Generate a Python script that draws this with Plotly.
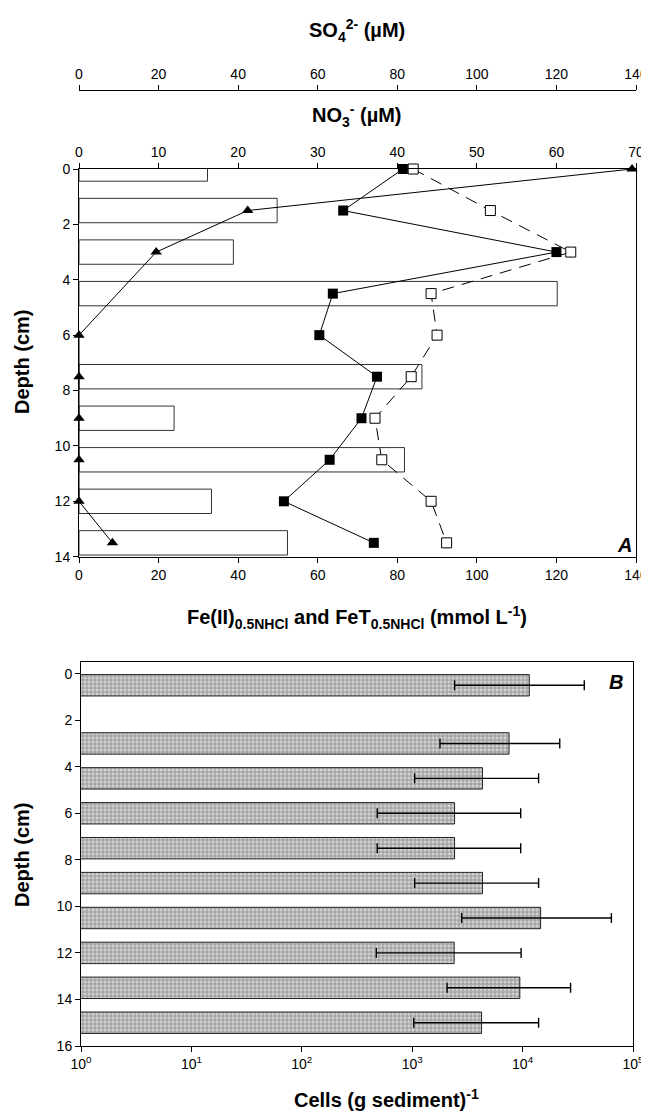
import plotly.graph_objects as go

# ---------------- Panel A data ----------------
so4_depth = [0, 1.5, 3, 4.5, 7.5, 9, 10.5, 12, 13.5]
so4_uM = [32.3, 49.8, 38.8, 120.2, 86.2, 23.9, 81.8, 33.3, 52.4]

no3_depth = [0, 1.5, 3, 6, 7.5, 9, 10.5, 12, 13.5]
no3_uM = [69.5, 21.2, 9.7, 0, 0, 0, 0, 0, 4.2]

fe_depth = [0, 1.5, 3, 4.5, 6, 7.5, 9, 10.5, 12, 13.5]
fe2 = [81.4, 66.4, 120.0, 63.8, 60.4, 74.9, 71.0, 63.0, 51.5, 74.1]
feT = [84.0, 103.4, 123.6, 88.5, 90.0, 83.5, 74.4, 76.1, 88.5, 92.4]

# ---------------- Panel B data ----------------
cell_depth = [0.5, 3, 4.5, 6, 7.5, 9, 10.5, 12, 13.5, 15]
cells = [11500, 7540, 4330, 2420, 2420, 4330, 14560, 2400, 9440, 4250]
cells_lo = [2420, 1785, 1052, 482, 482, 1052, 2805, 473, 2070, 1033]
cells_hi = [36200, 21700, 13960, 9610, 9610, 13960, 63700, 9690, 27200, 13960]

depthA_ticks = [0, 2, 4, 6, 8, 10, 12, 14]
depthB_ticks = [0, 2, 4, 6, 8, 10, 12, 14, 16]
fe_ticks = [0, 20, 40, 60, 80, 100, 120, 140]
no3_ticks = [0, 10, 20, 30, 40, 50, 60, 70]
cell_tickvals = [1, 10, 100, 1000, 10000, 100000]
cell_ticktext = ["10<sup>0</sup>", "10<sup>1</sup>", "10<sup>2</sup>",
                 "10<sup>3</sup>", "10<sup>4</sup>", "10<sup>5</sup>"]

FONT = "Liberation Sans, Arial, sans-serif"
OFF = 8                      # page body margin of the browser
W, H = 649 - OFF, 1112 - OFF
ML, MR, MT, MB = 79 - OFF, 13, 52, 32
PW = W - ML - MR
PH = H - MT - MB


def px_x(px):
    return (px - OFF - ML) / PW


def px_y(py):
    return (H - MB - (py - OFF)) / PH


fig = go.Figure()

# SO4 bars (base subplot, drawn underneath)
fig.add_trace(go.Bar(
    y=so4_depth, x=so4_uM, orientation="h", width=0.88,
    marker=dict(color="white", line=dict(color="#333333", width=1)),
    xaxis="x", yaxis="y", showlegend=False,
))

# Fe(II) filled squares
fig.add_trace(go.Scatter(
    x=fe2, y=fe_depth, mode="lines+markers",
    line=dict(color="black", width=1),
    marker=dict(symbol="square", size=10, color="black"),
    xaxis="x2", yaxis="y", cliponaxis=False, showlegend=False,
))
# FeT open squares
fig.add_trace(go.Scatter(
    x=feT, y=fe_depth, mode="lines+markers",
    line=dict(color="black", width=1, dash="12px,8px"),
    marker=dict(symbol="square", size=10, color="white",
                line=dict(color="black", width=1)),
    xaxis="x2", yaxis="y", cliponaxis=False, showlegend=False,
))
# NO3 triangles
fig.add_trace(go.Scatter(
    x=no3_uM, y=no3_depth, mode="lines+markers",
    line=dict(color="black", width=1),
    marker=dict(symbol="triangle-up", size=10, color="black"),
    xaxis="x3", yaxis="y", cliponaxis=False, showlegend=False,
))

# Panel B bars
fig.add_trace(go.Bar(
    y=cell_depth, x=cells, orientation="h", width=0.92,
    marker=dict(color="#c4c4c4", line=dict(color="#222222", width=1),
                pattern=dict(shape="+", size=4, solidity=0.45,
                             fgcolor="#5a5a5a", bgcolor="#d2d2d2")),
    error_x=dict(type="data", symmetric=False,
                 array=[h - v for h, v in zip(cells_hi, cells)],
                 arrayminus=[v - l for v, l in zip(cells, cells_lo)],
                 color="black", thickness=1.4, width=5),
    xaxis="x4", yaxis="y2", showlegend=False,
))

tickfont = dict(family=FONT, size=14, color="black")
axis_common = dict(showgrid=False, zeroline=False, ticks="outside", ticklen=5,
                   tickwidth=1, tickcolor="black", linecolor="black",
                   linewidth=1, tickfont=tickfont, automargin=False)

yA_bottom = px_y(556.7)
yA_top = px_y(169)
yB_bottom = px_y(1046)
yB_top = px_y(662)

fig.update_layout(
    width=W, height=H,
    margin=dict(l=ML, r=MR, t=MT, b=MB, autoexpand=False),
    paper_bgcolor="white", plot_bgcolor="white",
    font=dict(family=FONT, color="black"),
    barmode="overlay",
    # SO4 axis (free, above panel)
    xaxis=dict(axis_common, range=[0, 140], tickvals=fe_ticks, side="top",
               anchor="free", position=px_y(90), showline=True,
               domain=[0, 1]),
    # Fe axis (bottom)
    xaxis2=dict(axis_common, range=[0, 140], tickvals=fe_ticks, side="bottom",
                overlaying="x", anchor="y", showline=True),
    # NO3 axis (top of panel)
    xaxis3=dict(axis_common, range=[0, 70], tickvals=no3_ticks, side="top",
                overlaying="x", anchor="y", showline=True),
    yaxis=dict(axis_common, range=[14, 0], tickvals=depthA_ticks,
               domain=[yA_bottom, yA_top], anchor="x2", showline=True,
               mirror=True),
    xaxis4=dict(axis_common, type="log", range=[0, 5], tickvals=cell_tickvals,
                ticktext=cell_ticktext, domain=[px_x(81), px_x(633)],
                anchor="y2", showline=True, mirror=True),
    yaxis2=dict(axis_common, range=[16, -0.5], tickvals=depthB_ticks,
                domain=[yB_bottom, yB_top], anchor="x4", showline=True,
                mirror=True),
)

title_font = dict(family=FONT, size=20, color="black", weight="bold")
ann = [
    dict(text="SO<sub>4</sub><sup>2-</sup> (µM)", x=px_x(357), y=px_y(30)),
    dict(text="NO<sub>3</sub><sup>-</sup> (µM)", x=px_x(357), y=px_y(115)),
    dict(text="Fe(II)<sub>0.5NHCl</sub> and FeT<sub>0.5NHCl</sub> (mmol L<sup>-1</sup>)",
         x=px_x(357), y=px_y(617)),
    dict(text="Cells (g sediment)<sup>-1</sup>", x=px_x(386), y=px_y(1098)),
    dict(text="Depth (cm)", x=px_x(22), y=px_y(362), textangle=-90),
    dict(text="Depth (cm)", x=px_x(22), y=px_y(855), textangle=-90),
]
for a in ann:
    fig.add_annotation(xref="paper", yref="paper", showarrow=False,
                       xanchor="center", yanchor="middle",
                       font=title_font, **a)

fig.add_annotation(text="<b><i>A</i></b>", xref="paper", yref="paper",
                   x=px_x(624), y=px_y(545), showarrow=False,
                   xanchor="center", yanchor="middle",
                   font=dict(family=FONT, size=20, color="black"))
fig.add_annotation(text="<b><i>B</i></b>", xref="paper", yref="paper",
                   x=px_x(616), y=px_y(682), showarrow=False,
                   xanchor="center", yanchor="middle",
                   font=dict(family=FONT, size=20, color="black"))

fig.write_html("out.html")
